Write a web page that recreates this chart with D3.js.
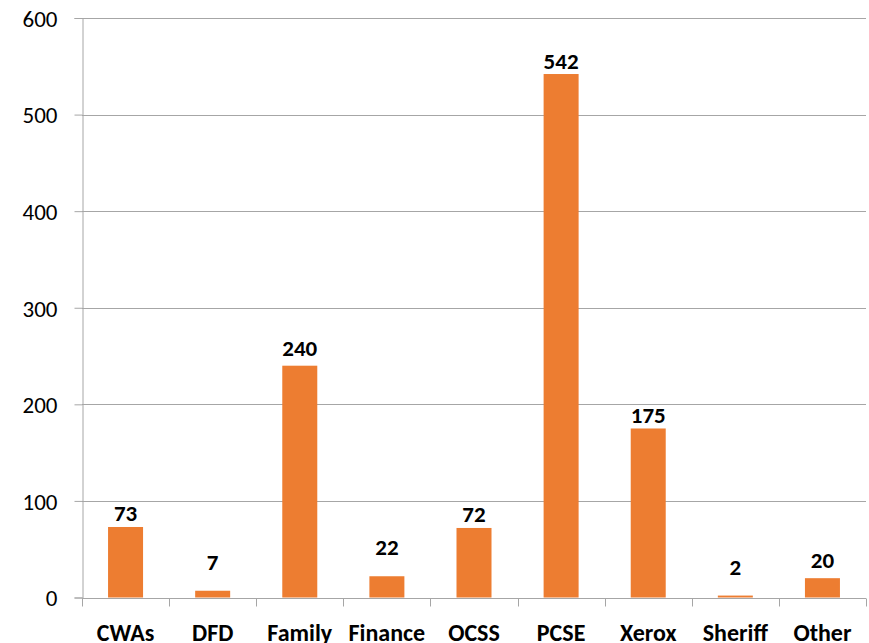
<!DOCTYPE html>
<html>
<head>
<meta charset="utf-8">
<script src="https://cdn.jsdelivr.net/npm/d3@7/dist/d3.min.js"></script>
<style>
  html,body{margin:0;padding:0;background:#fff}
  svg{display:block}
</style>
</head>
<body>
<div id="chart"></div>
<script>
// categories + values
const categories=["CWAs","DFD","Family","Finance","OCSS","PCSE","Xerox","Sheriff","Other"];
const values=[73,7,240,22,72,542,175,2,20];
const yTicks=[0,100,200,300,400,500,600];

// extra lift of value labels above bar top (px), as placed in the original
const labelLift=[4,19,8,19,4,3,3,19,8];

const W=869,H=643;
const m={left:82,right:3,top:18,bottom:45.5};
const fontF="Carlito,Lato,'Open Sans',sans-serif";
const barCol="#ED7D31",gridCol="#a6a6a6";

const svg=d3.select("#chart").append("svg").attr("width",W).attr("height",H);

const x=d3.scaleBand().domain(categories).range([m.left,W-m.right]).paddingInner(0).paddingOuter(0);
const y=d3.scaleLinear().domain([0,600]).range([H-m.bottom,m.top]);

// gridlines
svg.append("g").selectAll("line").data(yTicks.filter(t=>t>0)).enter().append("line")
  .attr("x1",m.left).attr("x2",W-m.right)
  .attr("y1",d=>Math.round(y(d))+.5).attr("y2",d=>Math.round(y(d))+.5)
  .attr("stroke",gridCol).attr("stroke-width",1);

// y axis
const yAx=svg.append("g").attr("transform","translate("+(m.left+.5)+",0)")
  .call(d3.axisLeft(y).tickValues(yTicks).tickSize(8).tickPadding(17).tickFormat(d3.format("d")));
yAx.select(".domain").attr("stroke",gridCol);
yAx.selectAll(".tick line").attr("stroke",gridCol);
yAx.selectAll(".tick text").attr("font-size","23px").attr("fill","#000").attr("font-family",fontF).attr("dy","0.36em");

// bars
const bw=35;
svg.append("g").selectAll("rect").data(values).enter().append("rect")
  .attr("x",(d,i)=>x(categories[i])+x.bandwidth()/2-bw/2)
  .attr("width",bw)
  .attr("y",d=>y(d))
  .attr("height",d=>y(0)-y(d))
  .attr("fill",barCol);

// x axis (category boundaries ticks)
const xg=svg.append("g").attr("transform","translate(0,"+(Math.round(y(0))+.5)+")");
xg.append("line").attr("x1",m.left).attr("x2",W-m.right).attr("stroke",gridCol);
const bounds=categories.map(c=>x(c)).concat([x(categories[categories.length-1])+x.bandwidth()]);
xg.selectAll("line.tk").data(bounds).enter().append("line").attr("class","tk")
  .attr("x1",d=>Math.round(d)+.5).attr("x2",d=>Math.round(d)+.5)
  .attr("y1",0).attr("y2",8).attr("stroke",gridCol);
xg.selectAll("text").data(categories).enter().append("text")
  .attr("x",d=>x(d)+x.bandwidth()/2)
  .attr("y",42)
  .attr("text-anchor","middle")
  .attr("font-family",fontF).attr("font-weight","bold").attr("font-size","24px")
  .attr("fill","#000").text(d=>d);

// value labels
svg.append("g").selectAll("text").data(values).enter().append("text")
  .attr("x",(d,i)=>x(categories[i])+x.bandwidth()/2)
  .attr("y",(d,i)=>y(d)-labelLift[i]-2)
  .attr("text-anchor","middle")
  .attr("font-family",fontF).attr("font-weight","bold").attr("font-size","23px")
  .attr("fill","#000").text(d=>d);
</script>
</body>
</html>
